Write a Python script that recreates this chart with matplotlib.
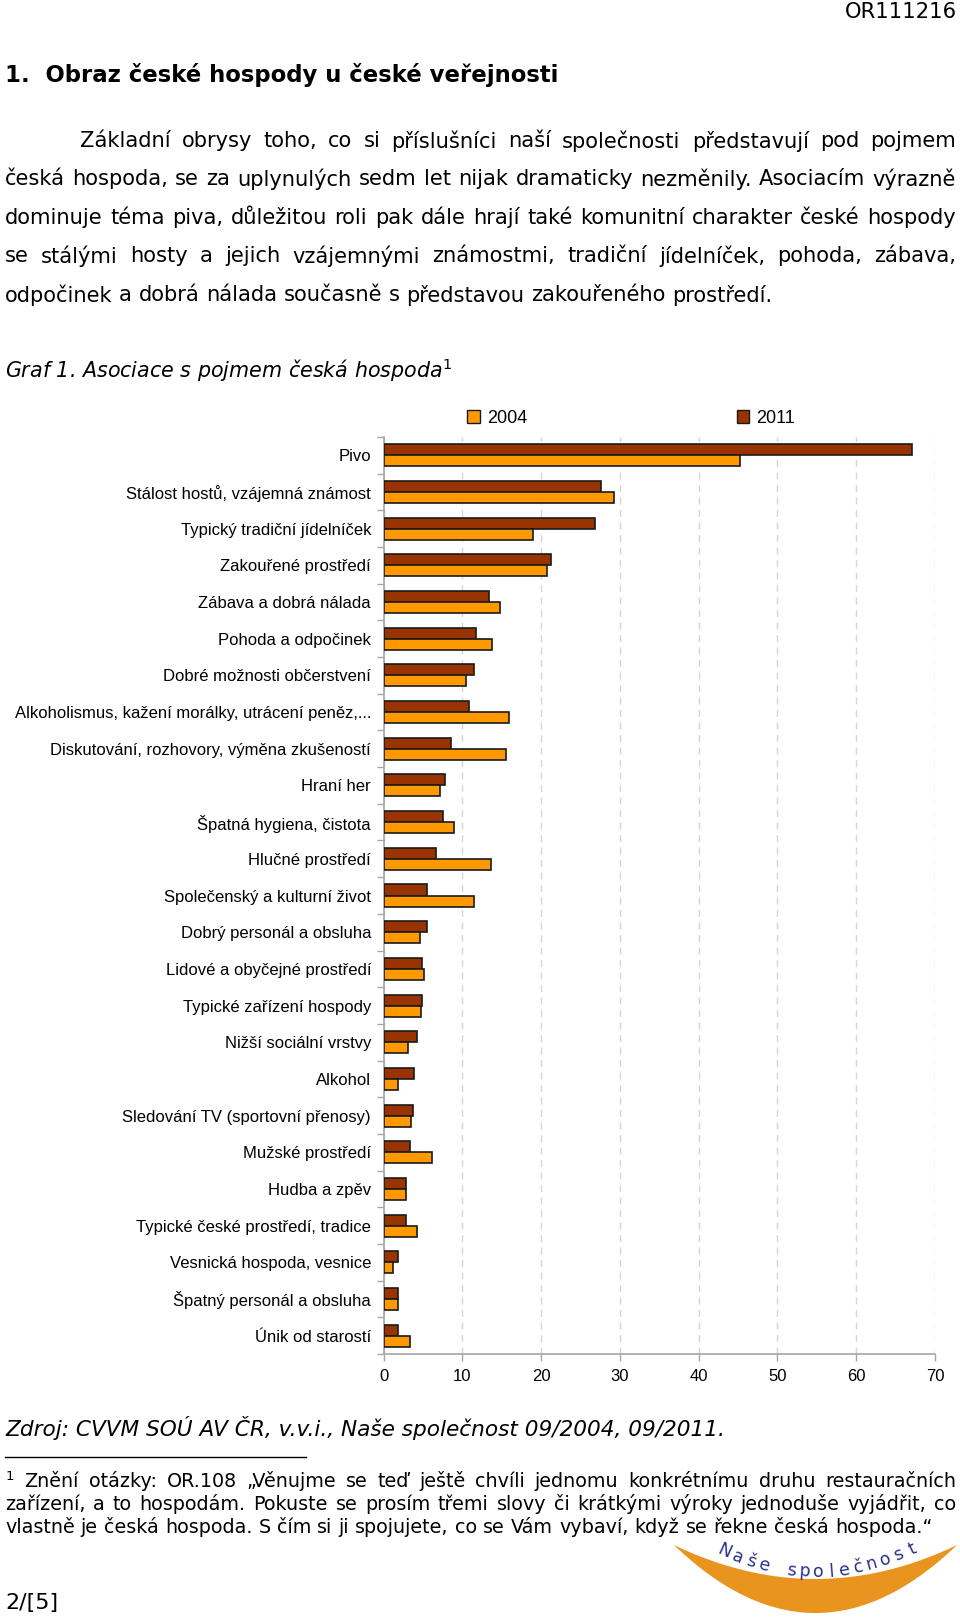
import matplotlib
matplotlib.use("Agg")
import matplotlib.pyplot as plt
import numpy as np
from matplotlib.patches import Patch, Polygon

# --- data (percent) ---
categories = [
    "Pivo",
    "Stálost hostů, vzájemná známost",
    "Typický tradiční jídelníček",
    "Zakouřené prostředí",
    "Zábava a dobrá nálada",
    "Pohoda a odpočinek",
    "Dobré možnosti občerstvení",
    "Alkoholismus, kažení morálky, utrácení peněz,...",
    "Diskutování, rozhovory, výměna zkušeností",
    "Hraní her",
    "Špatná hygiena, čistota",
    "Hlučné prostředí",
    "Společenský a kulturní život",
    "Dobrý personál a obsluha",
    "Lidové a obyčejné prostředí",
    "Typické zařízení hospody",
    "Nižší sociální vrstvy",
    "Alkohol",
    "Sledování TV (sportovní přenosy)",
    "Mužské prostředí",
    "Hudba a zpěv",
    "Typické české prostředí, tradice",
    "Vesnická hospoda, vesnice",
    "Špatný personál a obsluha",
    "Únik od starostí",
]
values_2011 = [67.1, 27.6, 26.8, 21.2, 13.4, 11.7, 11.5, 10.8, 8.5, 7.8, 7.6, 6.6, 5.5,
               5.5, 4.9, 4.9, 4.3, 3.9, 3.7, 3.3, 2.9, 2.9, 1.8, 1.8, 1.8]
values_2004 = [45.2, 29.3, 19.0, 20.7, 14.8, 13.8, 10.5, 15.9, 15.5, 7.2, 8.9, 13.6, 11.5,
               4.6, 5.1, 4.8, 3.1, 1.8, 3.5, 6.1, 2.8, 4.3, 1.2, 1.8, 3.4]
x_ticks = [0, 10, 20, 30, 40, 50, 60, 70]
series_labels = ["2004", "2011"]

paragraph = [
    "Základní obrysy toho, co si příslušníci naší společnosti představují pod pojmem",
    "česká hospoda, se za uplynulých sedm let nijak dramaticky nezměnily. Asociacím výrazně",
    "dominuje téma piva, důležitou roli pak dále hrají také komunitní charakter české hospody",
    "se stálými hosty a jejich vzájemnými známostmi, tradiční jídelníček, pohoda, zábava,",
    "odpočinek a dobrá nálada současně s představou zakouřeného prostředí.",
]
footnote = [
    "$^1$ Znění otázky: OR.108 „Věnujme se teď ještě chvíli jednomu konkrétnímu druhu restauračních",
    "zařízení, a to hospodám. Pokuste se prosím třemi slovy či krátkými výroky jednoduše vyjádřit, co",
    "vlastně je česká hospoda. S čím si ji spojujete, co se Vám vybaví, když se řekne česká hospoda.“",
]

C2004 = "#FF9900"
C2011 = "#993300"
PAGE_FONT = "DejaVu Sans"
CHART_FONT = "Liberation Sans"

W, H = 960, 1617
fig = plt.figure(figsize=(W / 100, H / 100), dpi=100)
fig.patch.set_facecolor("white")

# page layer in pixel coordinates
page = fig.add_axes([0, 0, 1, 1], zorder=0)
page.set_xlim(0, W)
page.set_ylim(H, 0)
page.axis("off")
renderer = fig.canvas.get_renderer()


def text_width(s, **kw):
    t = page.text(0, 0, s, **kw)
    w = t.get_window_extent(renderer).width
    t.remove()
    return w


def put_line(text, x0, x1, y, justify=True, **kw):
    words = text.split(" ")
    ts = [page.text(0, y, w, va="center", ha="left", **kw) for w in words]
    ws = [t.get_window_extent(renderer).width for t in ts]
    if justify and len(ws) > 1:
        gap = (x1 - x0 - sum(ws)) / (len(ws) - 1)
    else:
        gap = text_width("a a", **kw) - text_width("aa", **kw)
    x = x0
    for t, w in zip(ts, ws):
        t.set_x(x)
        x += w + gap


page.text(957, 12, "OR111216", ha="right", va="center", fontsize=15.2, family=PAGE_FONT)
page.text(5, 75, "1.  Obraz české hospody u české veřejnosti", ha="left", va="center",
          fontsize=16.4, fontweight="bold", family=PAGE_FONT)

para_y = [141, 179, 218, 256, 295]
for i, (line, y) in enumerate(zip(paragraph, para_y)):
    put_line(line, 80 if i == 0 else 5, 956, y, justify=i < len(paragraph) - 1,
             fontsize=15.1, family=PAGE_FONT)

page.text(5, 370, "Graf 1. Asociace s pojmem česká hospoda$^{1}$", ha="left", va="center",
          fontsize=14.9, style="italic", family=PAGE_FONT)
page.text(5, 1428, "Zdroj: CVVM SOÚ AV ČR, v.v.i., Naše společnost 09/2004, 09/2011.",
          ha="left", va="center", fontsize=15.6, style="italic", family=PAGE_FONT)
page.plot([5, 306], [1457, 1457], color="black", lw=1)
for i, (line, y) in enumerate(zip(footnote, [1481, 1504, 1527])):
    put_line(line, 5, 956, y, justify=i < len(footnote) - 1, fontsize=13.8, family=PAGE_FONT)
page.text(5, 1603, "2/[5]", ha="left", va="center", fontsize=16, family=PAGE_FONT)

# logo "Naše společnost"
t = np.linspace(0, 1, 80)
lx0, lx1, tip = 674, 957, 1545
xs = lx0 + t * (lx1 - lx0)
outer = tip + 68 * (1 - (2 * t - 1) ** 2)
inner = tip + 34 * (1 - (2 * t - 1) ** 2)
page.add_patch(Polygon(np.column_stack([np.r_[xs, xs[::-1]], np.r_[outer, inner[::-1]]]),
                       closed=True, facecolor="#E8941F", edgecolor="none"))
letters = "Naše společnost"
lt = np.linspace(0, 1, len(letters))
lxs = 724 + lt * (912 - 724)
a = 4 * 22 / (912 - 724) ** 2
lys = 1572 - a * (lxs - 815) ** 2
for ch, x, y in zip(letters, lxs, lys):
    slope = 2 * a * (x - 815)
    page.text(x, y, ch, ha="center", va="center", fontsize=12.5, color="#28308C",
              rotation=np.degrees(np.arctan(slope)), family=PAGE_FONT)

# chart
ax_l, ax_r, ax_t, ax_b = 383.6, 935, 437, 1354
ax = fig.add_axes([ax_l / W, 1 - ax_b / H, (ax_r - ax_l) / W, (ax_b - ax_t) / H], zorder=2)
ax.patch.set_alpha(0)
y = np.arange(len(categories))
bh = 0.3
ax.barh(y - bh / 2, values_2011, height=bh, color=C2011, edgecolor="#1a1a1a", lw=1.2, zorder=3)
ax.barh(y + bh / 2, values_2004, height=bh, color=C2004, edgecolor="#1a1a1a", lw=1.2, zorder=3)
ax.set_ylim(len(categories) - 0.5, -0.5)
ax.set_xlim(0, 70)
ax.set_xticks(x_ticks)
ax.set_xticklabels([str(v) for v in x_ticks], fontsize=12, family=CHART_FONT)
ax.set_yticks(y)
ax.set_yticklabels(categories, fontsize=12, family=CHART_FONT)
ax.set_yticks(np.arange(len(categories) + 1) - 0.5, minor=True)
ax.tick_params(axis="y", which="major", length=0, pad=9)
ax.tick_params(axis="y", which="minor", length=5, color="#a6a6a6", width=1)
ax.tick_params(axis="x", length=5, color="#a6a6a6", width=1, pad=6)
ax.grid(axis="x", color="#d6d6d6", linestyle=(0, (5, 4)), lw=1, zorder=0)
for s in ["top", "right"]:
    ax.spines[s].set_visible(False)
for s in ["left", "bottom"]:
    ax.spines[s].set_color("#a6a6a6")
    ax.spines[s].set_linewidth(1.2)

handles = [Patch(facecolor=C2004, edgecolor="#1a1a1a", lw=1),
           Patch(facecolor=C2011, edgecolor="#1a1a1a", lw=1)]
leg = fig.legend(handles, series_labels, ncol=2, loc="center left",
                 bbox_to_anchor=(467 / W, 1 - 418 / H), frameon=False, borderpad=0,
                 borderaxespad=0, handlelength=0.7, handleheight=0.7, handletextpad=0.4,
                 columnspacing=11.6, prop={"family": CHART_FONT, "size": 13})

fig.savefig("out.png", dpi=100)
